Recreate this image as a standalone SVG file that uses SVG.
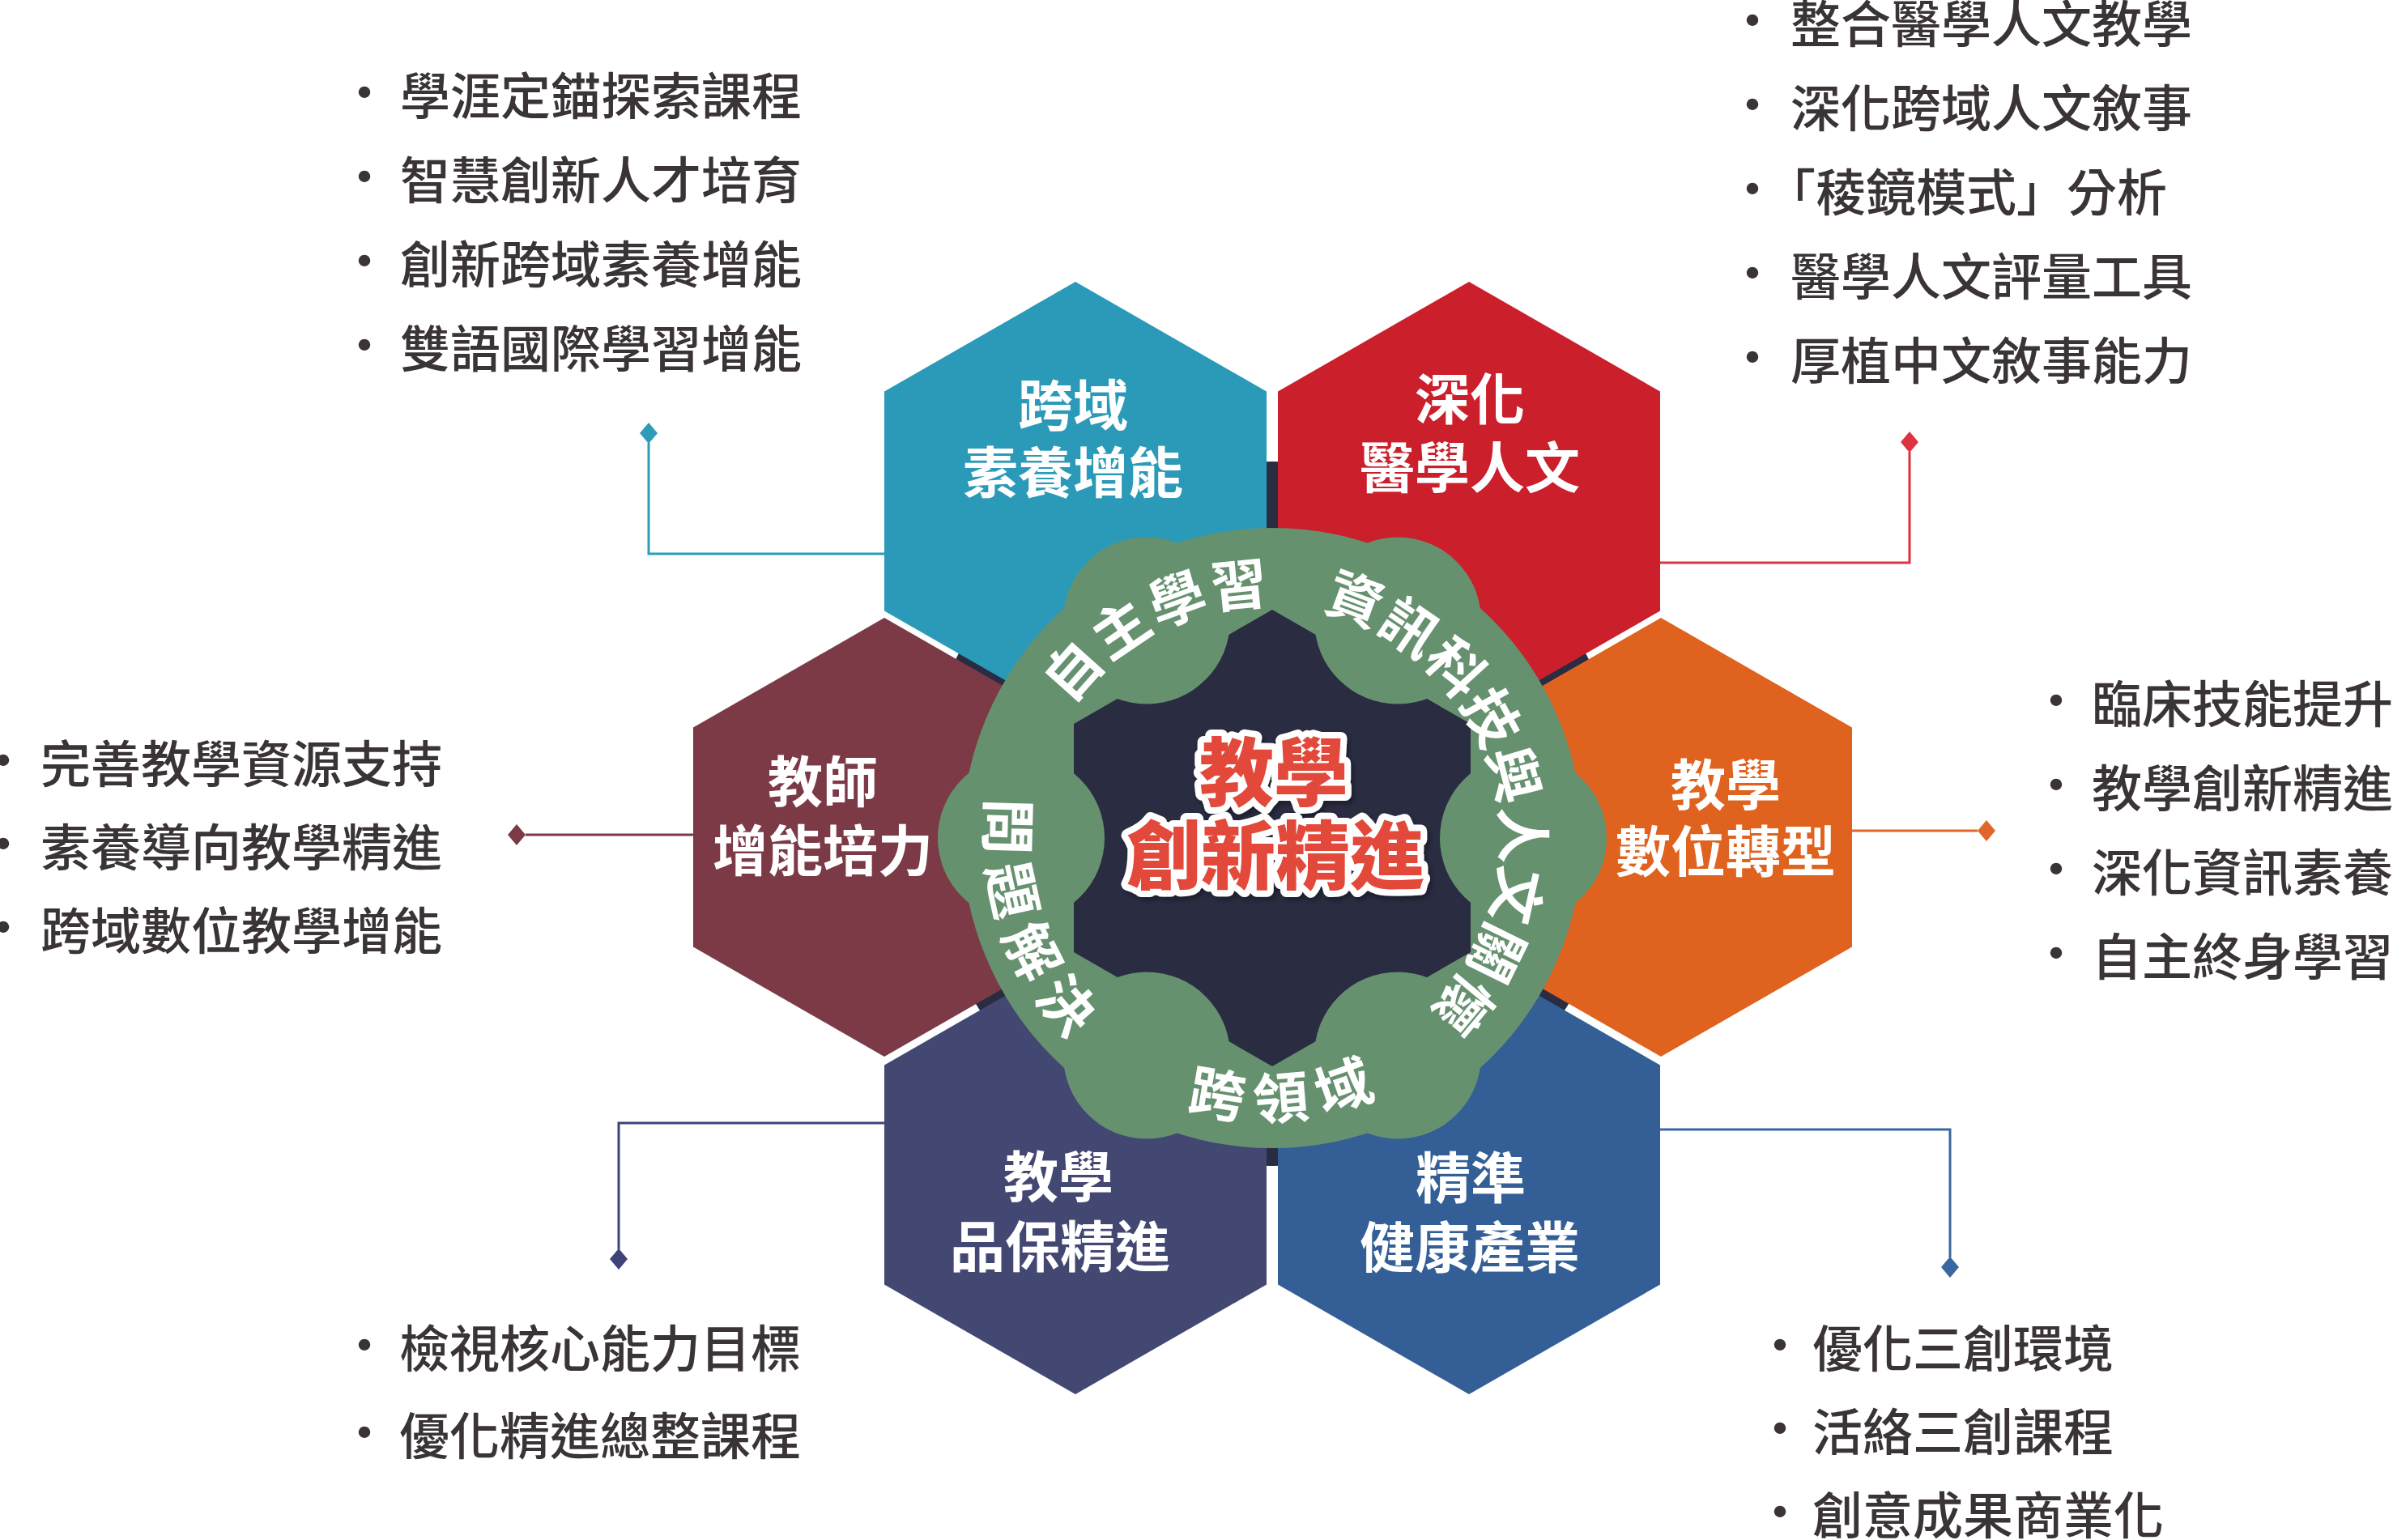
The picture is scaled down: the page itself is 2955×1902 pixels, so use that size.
<svg xmlns="http://www.w3.org/2000/svg" xmlns:xlink="http://www.w3.org/1999/xlink" width="2955" height="1902" viewBox="0 0 2955 1902">
<style>
text{font-family:"Noto Sans CJK TC","Noto Sans CJK SC",sans-serif}
.hl{font-size:68px;font-weight:700;fill:#ffffff;text-anchor:middle}
.li{font-size:62px;font-weight:500;fill:#3b3436}
.bu{font-size:62px;font-weight:500;fill:#3b3436;text-anchor:middle}
.rt{font-size:69px;font-weight:700;fill:#ffffff;text-anchor:middle}
.ti{font-size:92px;font-weight:900;fill:#e24a3b;stroke:#ffffff;stroke-width:16;paint-order:stroke;stroke-linejoin:round;text-anchor:middle}
.cn{fill:none;stroke-width:3}
.halt{font-feature-settings:"halt" 1}
</style>
<defs>
<path id="cw" d="M 1271.2 1038 A 291.8 291.8 0 1 1 1854.8 1038 A 291.8 291.8 0 1 1 1271.2 1038"/>
<path id="ccw" d="M 1563 693.8 A 344.2 344.2 0 1 0 1563 1382.2 A 344.2 344.2 0 1 0 1563 693.8"/>
<filter id="sh" x="-20%" y="-20%" width="140%" height="140%"><feDropShadow dx="3" dy="4" stdDeviation="3" flood-color="#000" flood-opacity="0.35"/></filter>
</defs>
<rect width="2955" height="1902" fill="#ffffff"/>
<circle id="backdrop" cx="1571" cy="1005" r="435" fill="#2a2c42"/>

<g id="node-teal">
<polygon points="1328,348 1564,483.5 1564,754.5 1328,890 1092,754.5 1092,483.5" fill="#2b9ab8"/>
<text class="hl" x="1325" y="526">跨域</text>
<text class="hl" x="1325" y="609">素養增能</text>
</g>
<g id="node-red">
<polygon points="1814,348 2050,483.5 2050,754.5 1814,890 1578,754.5 1578,483.5" fill="#cb1f2b"/>
<text class="hl" x="1815" y="518">深化</text>
<text class="hl" x="1815" y="603">醫學人文</text>
</g>
<g id="node-maroon">
<polygon points="1092,763 1328,898.5 1328,1169.5 1092,1305 856,1169.5 856,898.5" fill="#7b3a46"/>
<text class="hl" x="1016" y="991">教師</text>
<text class="hl" x="1016" y="1076">增能培力</text>
</g>
<g id="node-orange">
<polygon points="2051,763 2287,898.5 2287,1169.5 2051,1305 1815,1169.5 1815,898.5" fill="#df621f"/>
<text class="hl" x="2131" y="995">教學</text>
<text class="hl" x="2131" y="1077">數位轉型</text>
</g>
<g id="node-purple">
<polygon points="1328,1180 1564,1315.5 1564,1586.5 1328,1722 1092,1586.5 1092,1315.5" fill="#434873"/>
<text class="hl" x="1307" y="1479">教學</text>
<text class="hl" x="1309" y="1565">品保精進</text>
</g>
<g id="node-blue">
<polygon points="1814,1180 2050,1315.5 2050,1586.5 1814,1722 1578,1586.5 1578,1315.5" fill="#335f96"/>
<text class="hl" x="1816" y="1480">精準</text>
<text class="hl" x="1815" y="1566">健康產業</text>
</g>

<g id="node-center">
<circle cx="1571" cy="1035" r="383" fill="#66916f"/>
<polygon points="1571,753 1816,894 1816,1176 1571,1317 1326,1176 1326,894" fill="#2a2c42"/>
<g fill="#66916f">
<circle cx="1881" cy="1035" r="103"/>
<circle cx="1726" cy="766.5" r="103"/>
<circle cx="1416" cy="766.5" r="103"/>
<circle cx="1261" cy="1035" r="103"/>
<circle cx="1416" cy="1303.5" r="103"/>
<circle cx="1726" cy="1303.5" r="103"/>
</g>
<text class="rt" letter-spacing="3.3"><textPath href="#cw" xlink:href="#cw" startOffset="320.7">自主學習</textPath></text>
<text class="rt" letter-spacing="0.6"><textPath href="#cw" xlink:href="#cw" startOffset="840.6">資訊科技與人文關懷</textPath></text>
<text class="rt" letter-spacing="16.3"><textPath href="#ccw" xlink:href="#ccw" startOffset="658.8">問題解決</textPath></text>
<text class="rt" letter-spacing="16.3"><textPath href="#ccw" xlink:href="#ccw" startOffset="1109.9">跨領域</textPath></text>
<g filter="url(#sh)">
<text class="ti" x="1573" y="988">教學</text>
<text class="ti" x="1575" y="1091">創新精進</text>
</g>
</g>

<g id="connectors">
<polyline class="cn" stroke="#2f9cb7" points="801,547 801,684 1092,684"/>
<polygon fill="#2f9cb7" points="801,522 812,535 801,548 790,535"/>
<polyline class="cn" stroke="#dc3440" points="2358,558 2358,695 2050,695"/>
<polygon fill="#dc3440" points="2358,533 2369,546 2358,559 2347,546"/>
<polyline class="cn" stroke="#7c3a48" points="649,1031 856,1031"/>
<polygon fill="#7c3a48" points="627,1031 638,1018 649,1031 638,1044"/>
<polyline class="cn" stroke="#e0662a" points="2287,1026 2442,1026"/>
<polygon fill="#e0662a" points="2442,1026 2453,1013 2464,1026 2453,1039"/>
<polyline class="cn" stroke="#3e4479" points="1092,1387 764,1387 764,1543"/>
<polygon fill="#3e4479" points="764,1542 775,1555 764,1568 753,1555"/>
<polyline class="cn" stroke="#3a67a0" points="2050,1395 2408,1395 2408,1553"/>
<polygon fill="#3a67a0" points="2408,1552 2419,1565 2408,1578 2397,1565"/>
</g>

<g id="list-teal">
<text class="bu" x="450" y="138">·</text><text class="li" x="494" y="142">學涯定錨探索課程</text>
<text class="bu" x="450" y="242">·</text><text class="li" x="494" y="246">智慧創新人才培育</text>
<text class="bu" x="450" y="346">·</text><text class="li" x="494" y="350">創新跨域素養增能</text>
<text class="bu" x="450" y="450">·</text><text class="li" x="494" y="454">雙語國際學習增能</text>
</g>
<g id="list-red">
<text class="bu" x="2164" y="49">·</text><text class="li" x="2211" y="53">整合醫學人文教學</text>
<text class="bu" x="2164" y="153">·</text><text class="li" x="2211" y="157">深化跨域人文敘事</text>
<text class="bu" x="2164" y="257">·</text><text class="li" x="2211" y="261"><tspan class="halt">「</tspan>稜鏡模式」分析</text>
<text class="bu" x="2164" y="361">·</text><text class="li" x="2211" y="365">醫學人文評量工具</text>
<text class="bu" x="2164" y="465">·</text><text class="li" x="2211" y="469">厚植中文敘事能力</text>
</g>
<g id="list-maroon">
<text class="bu" x="4" y="963">·</text><text class="li" x="50" y="967">完善教學資源支持</text>
<text class="bu" x="4" y="1066">·</text><text class="li" x="50" y="1070">素養導向教學精進</text>
<text class="bu" x="4" y="1169">·</text><text class="li" x="50" y="1173">跨域數位教學增能</text>
</g>
<g id="list-orange">
<text class="bu" x="2539" y="889">·</text><text class="li" x="2583" y="893">臨床技能提升</text>
<text class="bu" x="2539" y="993">·</text><text class="li" x="2583" y="997">教學創新精進</text>
<text class="bu" x="2539" y="1097">·</text><text class="li" x="2583" y="1101">深化資訊素養</text>
<text class="bu" x="2539" y="1201">·</text><text class="li" x="2583" y="1205">自主終身學習</text>
</g>
<g id="list-purple">
<text class="bu" x="450" y="1685">·</text><text class="li" x="493" y="1689">檢視核心能力目標</text>
<text class="bu" x="450" y="1793">·</text><text class="li" x="493" y="1797">優化精進總整課程</text>
</g>
<g id="list-blue">
<text class="bu" x="2198" y="1685">·</text><text class="li" x="2238" y="1689">優化三創環境</text>
<text class="bu" x="2198" y="1788">·</text><text class="li" x="2238" y="1792">活絡三創課程</text>
<text class="bu" x="2198" y="1891">·</text><text class="li" x="2238" y="1895">創意成果商業化</text>
</g>
</svg>
